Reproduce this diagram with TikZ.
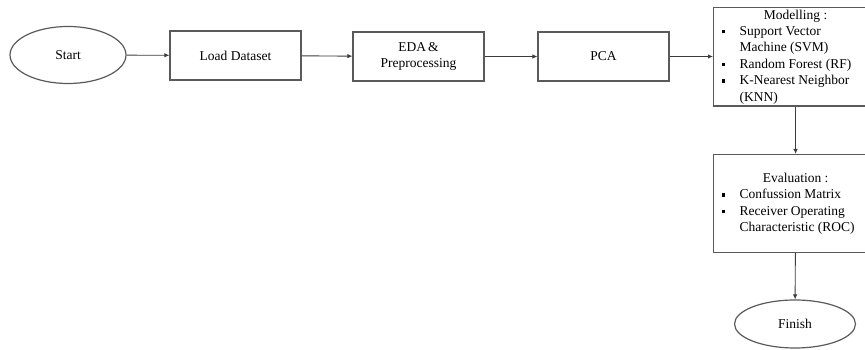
\documentclass[tikz,border=0pt]{standalone}
\usepackage{fontspec}
\setmainfont{Liberation Serif}
\usepackage{tikz}
\usetikzlibrary{arrows.meta, shapes.geometric, positioning}
\usepackage{xcolor}
\definecolor{boxgray}{RGB}{90,90,90}
\definecolor{linegray}{RGB}{60,60,60}

\newcommand{\bulletsq}{\raisebox{2pt}{\rule{3.5pt}{3.5pt}}}

\begin{document}
\begin{tikzpicture}[
        line join=miter,
        every node/.style={font=\fontsize{13.5}{16.4}\selectfont},
        termnode/.style={shape=ellipse, draw=boxgray, line width=1.2pt, inner sep=0pt},
        stepbox/.style={shape=rectangle, draw=boxgray, line width=1.2pt, minimum width=131pt, minimum height=49pt, align=center},
        listbox/.style={shape=rectangle, draw=boxgray, line width=1.2pt, minimum width=164pt, inner xsep=8pt, inner ysep=0pt, anchor=north west},
        flow/.style={draw=linegray, line width=0.9pt, -{Latex[length=5pt, width=4.5pt]}}
        ]

        %% Frame
        \useasboundingbox (0pt, 0pt) rectangle (865pt, 350pt);
        \clip (0pt, 0pt) rectangle (865pt, 350pt);

        %% Nodes
        \node[termnode, minimum width=116pt, minimum height=57pt] (start) at (68pt, 295pt) {Start};
        \node[stepbox] (load) at (235.5pt, 294.5pt) {Load Dataset};
        \node[stepbox] (eda) at (418.5pt, 293.5pt) {EDA\,\&\\Preprocessing};
        \node[stepbox] (pca) at (603.5pt, 293.5pt) {PCA};

        \node[listbox, minimum height=97pt] (model) at (713pt, 343pt) {%
            \begin{tabular}{@{}p{18pt}@{}p{130pt}@{}}
            \multicolumn{2}{c}{Modelling :}\\
            \bulletsq & Support Vector\\
                      & Machine (SVM)\\
            \bulletsq & Random Forest (RF)\\
            \bulletsq & K-Nearest Neighbor\\
                      & (KNN)
            \end{tabular}};

        \node[listbox, minimum height=98pt] (eval) at (713pt, 196pt) {%
            \begin{tabular}{@{}p{18pt}@{}p{130pt}@{}}
            \multicolumn{2}{c}{Evaluation :}\\
            \bulletsq & Confussion Matrix\\
            \bulletsq & Receiver Operating\\
                      & Characteristic (ROC)
            \end{tabular}};

        \node[termnode, minimum width=121pt, minimum height=48pt] (finish) at (795pt, 26pt) {Finish};

        %% Connectors
        \draw[flow] (start) -- (load);
        \draw[flow] (load) -- (eda);
        \draw[flow] (eda) -- (pca);
        \draw[flow] (pca.east) -- (pca.east -| model.west);
        \draw[flow] (model) -- (eval);
        \draw[flow] (eval) -- (finish);
\end{tikzpicture}
\end{document}
